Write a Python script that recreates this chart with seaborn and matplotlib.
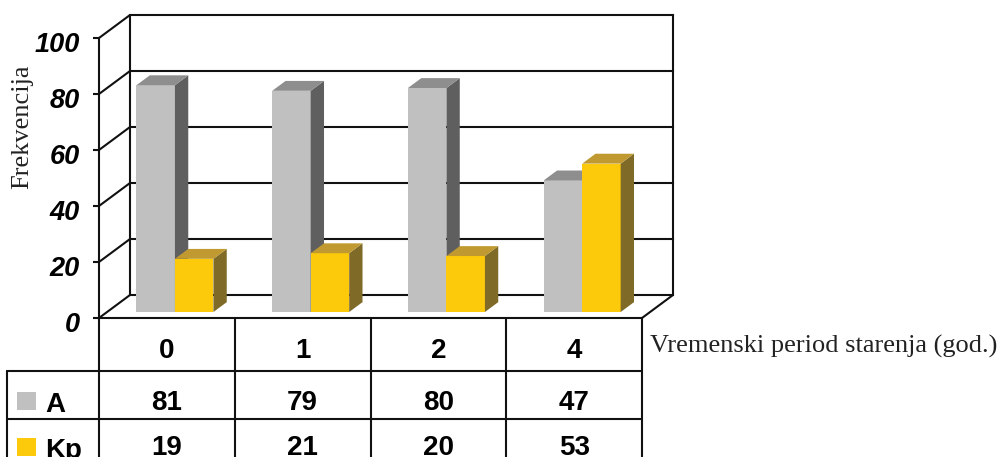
import matplotlib
matplotlib.use("Agg")
import matplotlib.pyplot as plt
import numpy as np
import pandas as pd
import seaborn as sns
from matplotlib.lines import Line2D
from matplotlib.patches import Polygon, Rectangle
from matplotlib.transforms import ScaledTranslation

# ---- data -------------------------------------------------------------
periods = ["0", "1", "2", "4"]
series = ["A", "Kp"]
values_a = [81, 79, 80, 47]
values_kp = [19, 21, 20, 53]
y_ticks = [0, 20, 40, 60, 80, 100]
y_title = "Frekvencija"
x_title = "Vremenski period starenja (god.)"

# ---- styling ----------------------------------------------------------
W, H, DPI = 1001, 457, 100
front = {"A": "#C0C0C0", "Kp": "#FCC90B"}
side = {"A": "#5F5F5F", "Kp": "#7F6A28"}
top = {"A": "#8E8E8E", "Kp": "#C09A30"}
LINE = "#111111"
LW = 1.5

sns.set_theme(style="white")
plt.rcParams["font.family"] = ["Liberation Sans", "DejaVu Sans"]
plt.rcParams["text.color"] = "black"

fig = plt.figure(figsize=(W / DPI, H / DPI), dpi=DPI)
fig.patch.set_facecolor("white")

# front plane of the 3-D box (pixel layout, top-down y)
X0, X1 = 99, 642
Y0, Y100 = 318, 38
ax = fig.add_axes([X0 / W, 1 - Y0 / H, (X1 - X0) / W, (Y0 - Y100) / H])

df = pd.DataFrame({
    "period": periods * 2,
    "series": ["A"] * len(periods) + ["Kp"] * len(periods),
    "value": values_a + values_kp,
})
sns.barplot(data=df, x="period", y="value", hue="series", order=periods,
            hue_order=series, palette=front, saturation=1, width=0.567,
            legend=False, linewidth=0, ax=ax)

ax.set_xlim(-0.5, len(periods) - 0.5)
ax.set_ylim(0, 100)

# data units per pixel, used for the oblique depth offset
sx = (X1 - X0) / len(periods)
sy = (Y0 - Y100) / 100.0
DEPTH_X, DEPTH_Y = 31, 23


def off(d):
    return DEPTH_X * d / sx, DEPTH_Y * d / sy


d_front, d_back = 0.26, 0.69
fx, fy = off(d_front)
bx, by = off(d_back)

for z, (name, cont) in enumerate(zip(series, ax.containers)):
    for bar in cont:
        x, w, h = bar.get_x(), bar.get_width(), bar.get_height()
        bar.set_x(x + fx)
        bar.set_y(fy)
        bar.set_zorder(3 + z)
        bar.set_clip_on(False)
        xr = x + w
        ax.add_patch(Polygon([(xr + fx, fy), (xr + fx, fy + h),
                              (xr + bx, by + h), (xr + bx, by)],
                             closed=True, facecolor=side[name], lw=0,
                             zorder=3 + z, clip_on=False))
        ax.add_patch(Polygon([(x + fx, fy + h), (xr + fx, fy + h),
                              (xr + bx, by + h), (x + bx, by + h)],
                             closed=True, facecolor=top[name], lw=0,
                             zorder=3 + z, clip_on=False))

# back wall, left wall and floor outlines
wx, wy = off(1.0)
xl, xr = -0.5, len(periods) - 0.5
for v in y_ticks:
    ax.plot([xl + wx, xr + wx], [v + wy, v + wy], color=LINE, lw=LW,
            zorder=1, clip_on=False, solid_capstyle="projecting")
    ax.plot([xl, xl + wx], [v, v + wy], color=LINE, lw=LW, zorder=1,
            clip_on=False)
ax.plot([xl + wx, xl + wx], [wy, 100 + wy], color=LINE, lw=LW, zorder=1,
        clip_on=False)
ax.plot([xr + wx, xr + wx], [wy, 100 + wy], color=LINE, lw=LW, zorder=1,
        clip_on=False)
ax.plot([xr, xr + wx], [0, wy], color=LINE, lw=LW, zorder=1, clip_on=False)

# axes decoration
for s in ["top", "right", "bottom"]:
    ax.spines[s].set_visible(False)
ax.spines["left"].set_color(LINE)
ax.spines["left"].set_linewidth(LW)
ax.patch.set_alpha(0)
ax.set_xticks([])
ax.set_xlabel("")
ax.set_ylabel("")
ax.set_yticks(y_ticks)
ax.set_yticklabels([str(t) for t in y_ticks], fontsize=19.5,
                   fontweight="bold", fontstyle="italic")
ax.tick_params(axis="y", left=True, length=4, width=LW, color=LINE, pad=10,
               labelcolor="black")
shift = ScaledTranslation(0, -4 / DPI, fig.dpi_scale_trans)
for lab in ax.get_yticklabels():
    lab.set_transform(lab.get_transform() + shift)


# ---- data table below the chart --------------------------------------
def P(x, y):
    return x / W, 1 - y / H


def seg(x0, y0, x1, y1):
    (a, b), (c, d) = P(x0, y0), P(x1, y1)
    fig.add_artist(Line2D([a, c], [b, d], transform=fig.transFigure,
                          color=LINE, lw=LW))


col_edges = [X0 + i * sx for i in range(len(periods) + 1)]
LEFT = 7
ROW_HEAD, ROW_A, ROW_KP, BOTTOM = 318, 371, 419, 470
seg(X0, ROW_HEAD, X1, ROW_HEAD)
seg(LEFT, ROW_A, X1, ROW_A)
seg(LEFT, ROW_KP, X1, ROW_KP)
seg(LEFT, ROW_A, LEFT, BOTTOM)
for xe in col_edges:
    seg(xe, ROW_HEAD, xe, BOTTOM)

tkw = dict(fontsize=20, fontweight="bold", ha="center", va="baseline",
           color="black", transform=fig.transFigure)
for i, p in enumerate(periods):
    cx = X0 + (i + 0.5) * sx
    fig.text(*P(cx, 358), p, **tkw)
    fig.text(*P(cx, 410), str(values_a[i]), **tkw)
    fig.text(*P(cx, 455), str(values_kp[i]), **tkw)

for name, ytop in zip(series, [392, 438]):
    fig.add_artist(Rectangle(P(17, ytop + 18), 19 / W, 18 / H,
                             transform=fig.transFigure,
                             facecolor=front[name], lw=0))
    fig.text(*P(45, ytop + 20), name, fontsize=20, fontweight="bold",
             color="black", ha="left", va="baseline",
             transform=fig.transFigure)

serif = ["Liberation Serif", "DejaVu Serif"]
fig.text(*P(22, 127), y_title, family=serif, fontsize=19, color="#222222",
         rotation=90, ha="center", va="center", transform=fig.transFigure)
fig.text(*P(650, 353), x_title, family=serif, fontsize=19, color="#222222",
         ha="left", va="baseline", transform=fig.transFigure)

fig.savefig("out.png", dpi=DPI, facecolor="white")
